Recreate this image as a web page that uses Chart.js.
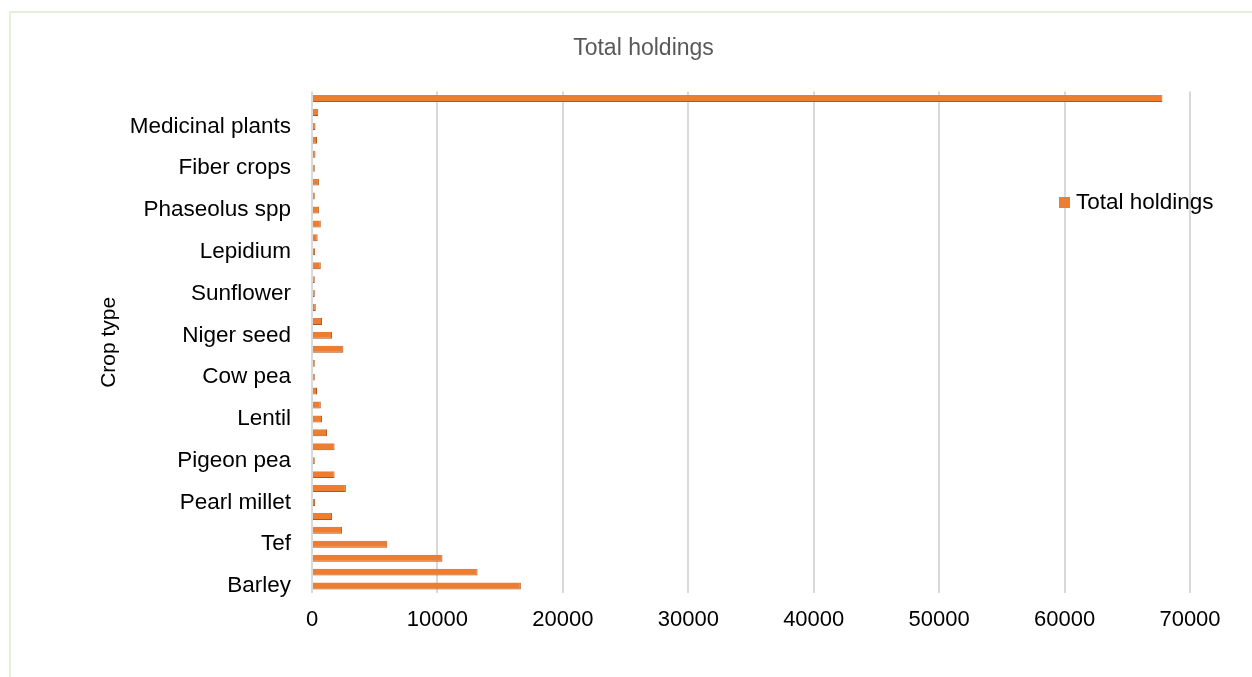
<!DOCTYPE html>
<html>
<head>
<meta charset="utf-8">
<script src="https://cdn.jsdelivr.net/npm/chart.js@4.4.0/dist/chart.umd.min.js"></script>
<style>
    body { margin: 0; background: #fff; overflow: hidden; }
    .quadro { position: absolute; left: 9px; top: 11px; width: 1260px; height: 700px; border: 2px solid #e3f0da; }
    .grafico { position: absolute; left: 0; top: 0; width: 1252px; height: 677px; }
    .legenda { position: absolute; left: 1059px; top: 188px; font: 22.5px "Liberation Sans", Arial, sans-serif; color: #000; line-height: 28px; }
    .legenda span { display: inline-block; width: 11px; height: 11px; background: #ED7D31; margin-right: 6px; vertical-align: 1px; }
</style>
</head>
<body>
<div class="quadro"></div>
<div class="grafico"><canvas id="GraficoCulturas" width="1252" height="677"></canvas></div>
<div class="legenda"><span></span>Total holdings</div>
<script>
// categorias de baixo para cima (so uma a cada tres aparece no eixo)
var culturas = ["Barley", "Wheat", "Maize", "Tef", "Sorghum", "Finger millet",
    "Pearl millet", "Faba bean", "Field pea", "Pigeon pea", "Chickpea", "Haricot bean",
    "Lentil", "Grass pea", "Fenugreek", "Cow pea", "Mung bean", "Linseed",
    "Niger seed", "Rapeseed", "Sesame", "Sunflower", "Safflower", "Groundnut",
    "Lepidium", "Soybean", "Lupin", "Phaseolus spp", "Vegetables", "Spices",
    "Fiber crops", "Root crops", "Fruits", "Medicinal plants", "Others", "Total"];
var totalHoldings = [16650, 13200, 10400, 6000, 2400, 1600,
    250, 2700, 1800, 220, 1800, 1200,
    800, 700, 400, 220, 220, 2500,
    1600, 800, 300, 220, 220, 700,
    250, 450, 700, 550, 220, 550,
    220, 280, 400, 280, 500, 67800];
var ticksX = [0, 10000, 20000, 30000, 40000, 50000, 60000, 70000];

var fonte = "'Liberation Sans', Arial, sans-serif";
var ctx = document.getElementById('GraficoCulturas').getContext('2d');
var grafico = new Chart(ctx, {
    type: 'bar',
    data: {
        labels: culturas,
        datasets: [
            {
                label: "Total holdings",
                data: totalHoldings,
                backgroundColor: '#ED7D31',
                borderColor: '#b4561a',
                borderWidth: { right: 1, bottom: 1 },
                borderSkipped: false,
                categoryPercentage: 1,
                barPercentage: 0.5
            }
        ]
    },
    options: {
        indexAxis: 'y',
        responsive: false,
        animation: false,
        layout: { padding: { left: 97, right: 62, top: 12, bottom: 0 } },
        plugins: {
            legend: { display: false },
            tooltip: { enabled: false },
            title: {
                display: true,
                text: "Total holdings",
                color: '#595959',
                font: { family: fonte, size: 23, weight: 'normal' },
                padding: { top: 23, bottom: 29 }
            }
        },
        scales: {
            x: {
                min: 0,
                max: 70000,
                afterBuildTicks: function (escala) {
                    escala.ticks = ticksX.map(function (v) { return { value: v }; });
                },
                afterFit: function (escala) { escala.height = 84; },
                grid: { color: '#d9d9d9', lineWidth: 2, drawTicks: false },
                border: { display: false },
                ticks: {
                    color: '#000',
                    padding: 14,
                    maxRotation: 0,
                    font: { family: fonte, size: 22 },
                    callback: function (valor) { return String(valor); }
                }
            },
            y: {
                reverse: true,
                afterFit: function (escala) { escala.width = 215; },
                grid: { display: false, drawTicks: false },
                border: { display: false },
                title: {
                    display: true,
                    text: "Crop type",
                    color: '#000',
                    padding: 0,
                    font: { family: fonte, size: 21 }
                },
                ticks: {
                    autoSkip: false,
                    padding: 21,
                    color: '#000',
                    font: { family: fonte, size: 22.5 },
                    callback: function (valor, indice) {
                        return indice % 3 === 0 ? culturas[indice] : '';
                    }
                }
            }
        }
    }
});
</script>
</body>
</html>
